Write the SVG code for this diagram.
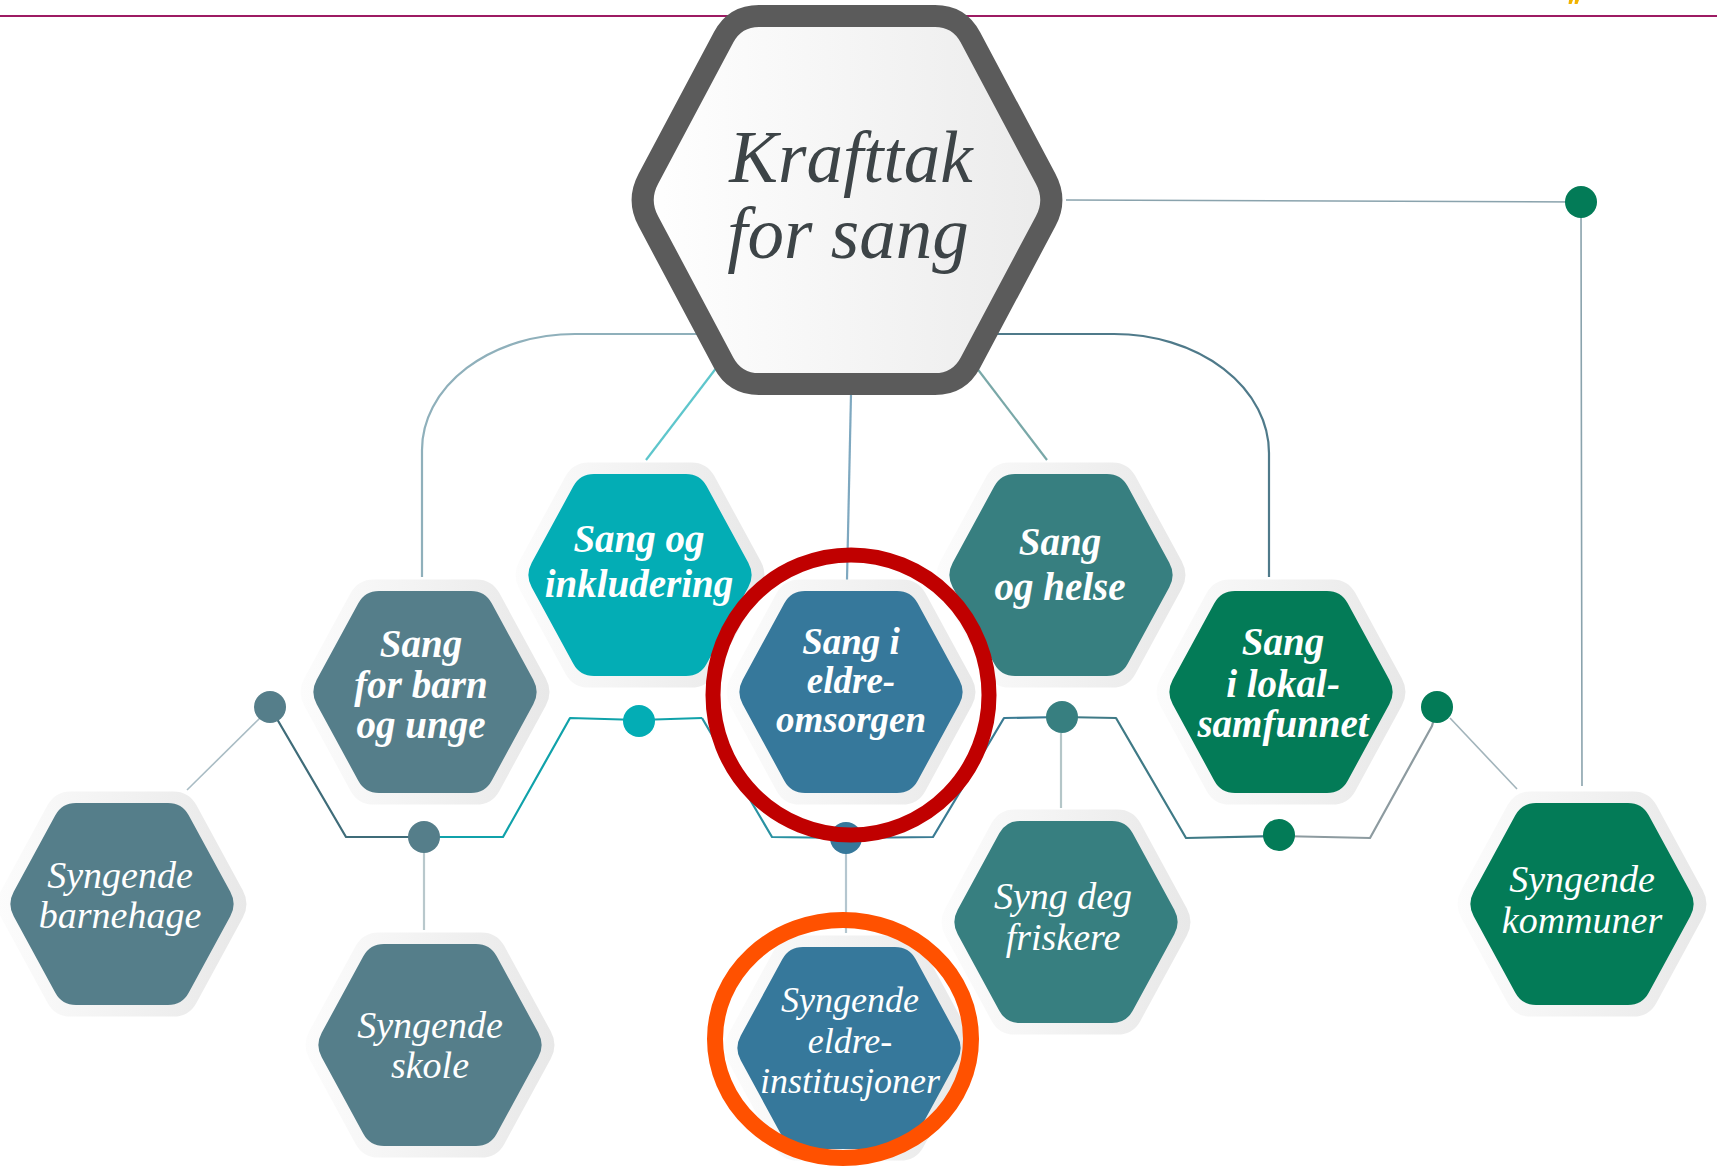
<svg xmlns="http://www.w3.org/2000/svg" xmlns:xlink="http://www.w3.org/1999/xlink" width="1717" height="1167" viewBox="0 0 1717 1167">
<style>
.lbl{font-family:"Liberation Serif","DejaVu Serif",serif;font-style:italic;fill:#ffffff;text-anchor:middle}
.b{font-weight:bold;font-size:39px}
.r{font-weight:normal;font-size:38px}
.main{font-family:"Liberation Serif","DejaVu Serif",serif;font-style:italic;font-size:73px;fill:#3d4447;text-anchor:middle}
.ln{fill:none;stroke-width:2.2;stroke-linejoin:round}
.thin{fill:none;stroke-width:1.6}
.halo{fill:url(#haloGrad)}
.c-teal{fill:#03adb5}
.c-slate{fill:#557e8a}
.c-blue{fill:#36789b}
.c-tg{fill:#377f80}
.c-green{fill:#037b57}
</style>
<defs>
<linearGradient id="haloGrad" x1="0" y1="0" x2="1" y2="0">
<stop offset="0" stop-color="#fcfcfc"/>
<stop offset="1" stop-color="#e8e8e8"/>
</linearGradient>
<linearGradient id="mainGrad" x1="0" y1="0" x2="1" y2="0">
<stop offset="0" stop-color="#ffffff"/>
<stop offset="1" stop-color="#ebebeb"/>
</linearGradient>
<path id="hexN" d="M -108.3,-12.3 L -66.7,-88.7 Q -60,-101 -46,-101 L 46,-101 Q 60,-101 66.7,-88.7 L 108.3,-12.3 Q 115,0 108.3,12.3 L 66.7,88.7 Q 60,101 46,101 L -46,101 Q -60,101 -66.7,88.7 L -108.3,12.3 Q -115,0 -108.3,-12.3 Z"/>
</defs>
<rect x="0" y="0" width="1717" height="1167" fill="#ffffff"/>
<line x1="0" y1="16" x2="1717" y2="16" stroke="#9d1b63" stroke-width="2"/>
<path d="M1569,0 h4 l-1.5,4 h-3 z M1575,0 h4 l-1.5,4 h-3 z" fill="#f2b300"/>

<g id="connectors">
<path class="ln" d="M 720,334 L 575,334 A 153,116 0 0 0 422,450 L 422,577" stroke="#8fb0bb" stroke-width="2.5"/>
<path class="ln" d="M 975,334 L 1114,334 A 155,119 0 0 1 1269,453 L 1269,577" stroke="#4f7a8a" stroke-width="2.5"/>
<line class="ln" x1="717" y1="367" x2="646" y2="460" stroke="#5ec6cc"/>
<line class="ln" x1="976" y1="367" x2="1047" y2="460" stroke="#79a8a8"/>
<line class="ln" x1="851" y1="394" x2="847" y2="580" stroke="#7ea8c0"/>
<path class="thin" d="M 1066,200 L 1581,202 L 1582,786" stroke="#8aa3ad"/>
<line class="thin" x1="260" y1="718" x2="187" y2="790" stroke="#a9bcc4"/>
<line class="thin" x1="1450" y1="718" x2="1517" y2="789" stroke="#a2b4bb"/>
<path class="ln" d="M 270,707 L 346,837 L 424,837" stroke="#3f6c79"/>
<path class="ln" d="M 424,837 L 503,837 L 570,718 L 639,720 L 702,718" stroke="#10a2aa"/>
<path class="ln" d="M 702,718 L 772,837 L 846,838" stroke="#2a92a2"/>
<path class="ln" d="M 846,838 L 933,837 L 1004,718 L 1062,717" stroke="#3a7b93"/>
<path class="ln" d="M 1062,717 L 1116,718 L 1186,838 L 1279,836" stroke="#3f7a86"/>
<path class="ln" d="M 1279,836 L 1370,838 L 1432,726 L 1437,707" stroke="#8d9ba0"/>
<line class="ln" x1="424" y1="850" x2="424" y2="930" stroke="#b8c8cc"/>
<line class="ln" x1="846" y1="852" x2="846" y2="933" stroke="#b4c6cf"/>
<line class="ln" x1="1061" y1="733" x2="1061" y2="808" stroke="#b4c6c8"/>
<circle cx="1581" cy="202" r="16" class="c-green"/>
<circle cx="270" cy="707" r="16" class="c-slate"/>
<circle cx="424" cy="837" r="16" class="c-slate"/>
<circle cx="639" cy="721" r="16" class="c-teal"/>
<circle cx="846" cy="838" r="16" class="c-blue"/>
<circle cx="1062" cy="717" r="16" class="c-tg"/>
<circle cx="1279" cy="835" r="16" class="c-green"/>
<circle cx="1437" cy="707" r="16" class="c-green"/>
</g>

<g id="node-main">
<path transform="translate(847,200)" d="M -198.7,-21.2 L -123.3,-162.8 Q -112,-184 -88,-184 L 88,-184 Q 112,-184 123.3,-162.8 L 198.7,-21.2 Q 210,0 198.7,21.2 L 123.3,162.8 Q 112,184 88,184 L -88,184 Q -112,184 -123.3,162.8 L -198.7,21.2 Q -210,0 -198.7,-21.2 Z" fill="url(#mainGrad)" stroke="#5b5b5b" stroke-width="22" stroke-linejoin="round"/>
<text class="main" x="851" y="182">Krafttak</text>
<text class="main" x="848" y="258">for sang</text>
</g>

<g id="node-inkludering">
<use xlink:href="#hexN" href="#hexN" class="halo" transform="translate(640,575) scale(1.115)"/>
<use xlink:href="#hexN" href="#hexN" class="c-teal" transform="translate(640,575)"/>
<text class="lbl b" x="639" y="552">Sang og</text>
<text class="lbl b" x="639" y="597">inkludering</text>
</g>

<g id="node-helse">
<use xlink:href="#hexN" href="#hexN" class="halo" transform="translate(1061,575) scale(1.115)"/>
<use xlink:href="#hexN" href="#hexN" class="c-tg" transform="translate(1061,575)"/>
<text class="lbl b" x="1060" y="555">Sang</text>
<text class="lbl b" x="1060" y="600">og helse</text>
</g>

<g id="node-barn">
<use xlink:href="#hexN" href="#hexN" class="halo" transform="translate(425,692) scale(1.115)"/>
<use xlink:href="#hexN" href="#hexN" class="c-slate" transform="translate(425,692)"/>
<text class="lbl b" x="421" y="657">Sang</text>
<text class="lbl b" x="421" y="698">for barn</text>
<text class="lbl b" x="421" y="738">og unge</text>
</g>

<g id="node-eldreomsorgen">
<use xlink:href="#hexN" href="#hexN" class="halo" transform="translate(851,692) scale(1.115)"/>
<use xlink:href="#hexN" href="#hexN" class="c-blue" transform="translate(851,692)"/>
<text class="lbl b" x="851" y="654" style="font-size:37px">Sang i</text>
<text class="lbl b" x="851" y="693" style="font-size:37px">eldre-</text>
<text class="lbl b" x="851" y="732" style="font-size:37px">omsorgen</text>
</g>

<g id="node-lokal">
<use xlink:href="#hexN" href="#hexN" class="halo" transform="translate(1281,692) scale(1.115)"/>
<use xlink:href="#hexN" href="#hexN" class="c-green" transform="translate(1281,692)"/>
<text class="lbl b" x="1283" y="655">Sang</text>
<text class="lbl b" x="1283" y="697">i lokal-</text>
<text class="lbl b" x="1283" y="737">samfunnet</text>
</g>

<g id="node-barnehage">
<use xlink:href="#hexN" href="#hexN" class="halo" transform="translate(122,904) scale(1.115)"/>
<use xlink:href="#hexN" href="#hexN" class="c-slate" transform="translate(122,904)"/>
<text class="lbl r" x="120" y="888">Syngende</text>
<text class="lbl r" x="120" y="928">barnehage</text>
</g>

<g id="node-skole">
<use xlink:href="#hexN" href="#hexN" class="halo" transform="translate(430,1045) scale(1.115)"/>
<use xlink:href="#hexN" href="#hexN" class="c-slate" transform="translate(430,1045)"/>
<text class="lbl r" x="430" y="1038">Syngende</text>
<text class="lbl r" x="430" y="1078">skole</text>
</g>

<g id="node-institusjoner">
<use xlink:href="#hexN" href="#hexN" class="halo" transform="translate(849,1048) scale(1.115)"/>
<use xlink:href="#hexN" href="#hexN" class="c-blue" transform="translate(849,1048)"/>
<text class="lbl r" x="850" y="1012" style="font-size:36px">Syngende</text>
<text class="lbl r" x="850" y="1053" style="font-size:36px">eldre-</text>
<text class="lbl r" x="850" y="1093" style="font-size:36px">institusjoner</text>
</g>

<g id="node-friskere">
<use xlink:href="#hexN" href="#hexN" class="halo" transform="translate(1066,922) scale(1.115)"/>
<use xlink:href="#hexN" href="#hexN" class="c-tg" transform="translate(1066,922)"/>
<text class="lbl r" x="1063" y="909">Syng deg</text>
<text class="lbl r" x="1063" y="950">friskere</text>
</g>

<g id="node-kommuner">
<use xlink:href="#hexN" href="#hexN" class="halo" transform="translate(1582,904) scale(1.115)"/>
<use xlink:href="#hexN" href="#hexN" class="c-green" transform="translate(1582,904)"/>
<text class="lbl r" x="1582" y="892">Syngende</text>
<text class="lbl r" x="1582" y="933">kommuner</text>
</g>

<g id="highlights">
<ellipse cx="851" cy="695" rx="138" ry="140" fill="none" stroke="#c00000" stroke-width="15"/>
<ellipse cx="843" cy="1039" rx="128" ry="119" fill="none" stroke="#ff5100" stroke-width="16"/>
</g>
</svg>
